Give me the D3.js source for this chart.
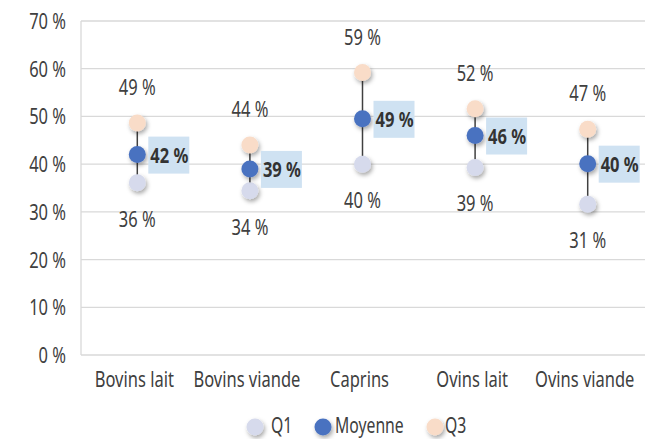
<!DOCTYPE html>
<head>
<script src="https://d3js.org/d3.v7.min.js"></script>
<style>
body { margin: 0; background: #fff; }
text { font-family: "Noto Sans", "Open Sans", sans-serif; fill: #404040; }
</style>
</head>
<body>
<svg></svg>
<script>
var categories = ["Bovins lait", "Bovins viande", "Caprins", "Ovins lait", "Ovins viande"];
var q1 = [36.1, 34.4, 40.0, 39.3, 31.6];
var moyenne = [42.0, 39.0, 49.5, 46.0, 40.1];
var q3 = [48.6, 44.0, 59.2, 51.6, 47.3];
var q1Labels = ["36 %", "34 %", "40 %", "39 %", "31 %"];
var moyLabels = ["42 %", "39 %", "49 %", "46 %", "40 %"];
var q3Labels = ["49 %", "44 %", "59 %", "52 %", "47 %"];
var yTicks = [0, 10, 20, 30, 40, 50, 60, 70];
var seriesNames = ["Q1", "Moyenne", "Q3"];

var width = 645, height = 439;
var margin = {top: 21, right: 1, bottom: 84, left: 81};
var SX = 0.75; // narrow the font horizontally

var svg = d3.select("svg").attr("width", width).attr("height", height);

var defs = svg.append("defs");
var f = defs.append("filter").attr("id", "shadow")
    .attr("x", "-50%").attr("y", "-50%").attr("width", "200%").attr("height", "200%");
f.append("feDropShadow").attr("dx", 1.5).attr("dy", 2.5).attr("stdDeviation", 2.2)
    .attr("flood-color", "#000").attr("flood-opacity", 0.35);

var x = d3.scaleBand().domain(categories).range([margin.left, width - margin.right]);
var y = d3.scaleLinear().domain([0, 70]).range([height - margin.bottom, margin.top]);

function place(px, py) { return "translate(" + px + "," + py + ") scale(" + SX + ",1)"; }

// gridlines
svg.append("g").selectAll("line").data(yTicks).enter().append("line")
    .attr("x1", margin.left).attr("x2", width)
    .attr("y1", function(d) { return y(d); }).attr("y2", function(d) { return y(d); })
    .style("stroke", "#d9d9d9").style("stroke-width", 1.3);

svg.append("line")
    .attr("x1", margin.left).attr("x2", margin.left)
    .attr("y1", y(70)).attr("y2", y(0))
    .style("stroke", "#d9d9d9").style("stroke-width", 1.3);

// y labels
svg.append("g").selectAll("text").data(yTicks).enter().append("text")
    .attr("transform", function(d) { return place(66, y(d) + 8); })
    .attr("text-anchor", "end").style("font-size", "22px")
    .text(function(d) { return d + " %"; });

// x labels
svg.append("g").selectAll("text").data(categories).enter().append("text")
    .attr("transform", function(d) { return place(x(d) + x.bandwidth() / 2 - 3, 387); })
    .attr("text-anchor", "middle").style("font-size", "22px")
    .text(function(d) { return d; });

var cx = function(i) { return x(categories[i]) + x.bandwidth() / 2; };
var idx = d3.range(categories.length);

// whiskers
svg.append("g").selectAll("line").data(idx).enter().append("line")
    .attr("x1", cx).attr("x2", cx)
    .attr("y1", function(i) { return y(q1[i]); })
    .attr("y2", function(i) { return y(q3[i]); })
    .style("stroke", "#404040").style("stroke-width", 1.5);

var r = 8.5;
function dots(vals, color) {
    svg.append("g").selectAll("circle").data(idx).enter().append("circle")
        .attr("cx", cx).attr("cy", function(i) { return y(vals[i]); })
        .attr("r", r).style("fill", color).attr("filter", "url(#shadow)");
}
dots(q1, "#d6daec");
dots(q3, "#f9dcc8");
dots(moyenne, "#4a72c0");

// Q3 labels above
svg.append("g").selectAll("text").data(idx).enter().append("text")
    .attr("transform", function(i) { return place(cx(i), y(q3[i]) - 28); })
    .attr("text-anchor", "middle").style("font-size", "22px")
    .text(function(i) { return q3Labels[i]; });

// Q1 labels below
svg.append("g").selectAll("text").data(idx).enter().append("text")
    .attr("transform", function(i) { return place(cx(i), y(q1[i]) + 44); })
    .attr("text-anchor", "middle").style("font-size", "22px")
    .text(function(i) { return q1Labels[i]; });

// mean labels with box
var mg = svg.append("g").selectAll("g").data(idx).enter().append("g")
    .attr("transform", function(i) { return "translate(" + (cx(i) + 11) + "," + y(moyenne[i]) + ")"; });
mg.append("rect").attr("x", 0).attr("y", -18).attr("width", 41).attr("height", 37)
    .style("fill", "#cfe2f2");
mg.append("text").attr("transform", place(21, 8)).attr("text-anchor", "middle")
    .style("font-size", "22px").style("font-weight", "bold").style("fill", "#333")
    .text(function(i) { return moyLabels[i]; });

// legend
var legendColors = ["#d6daec", "#4a72c0", "#f9dcc8"];
var legendDotX = [255, 323, 435];
var legendTextX = [271, 335, 445];
var lg = svg.append("g").selectAll("g").data(seriesNames).enter().append("g");
lg.append("circle")
    .attr("cx", function(d, i) { return legendDotX[i]; }).attr("cy", 427)
    .attr("r", 8.5).style("fill", function(d, i) { return legendColors[i]; })
    .attr("filter", "url(#shadow)");
lg.append("text")
    .attr("transform", function(d, i) { return place(legendTextX[i], 433); })
    .style("font-size", "21px").text(function(d) { return d; });
</script>
</body>
